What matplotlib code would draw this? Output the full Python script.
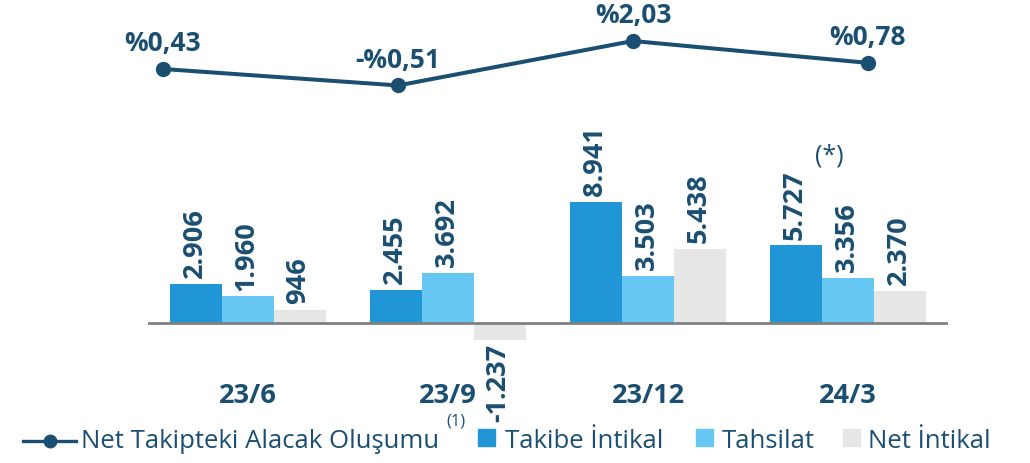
import matplotlib
matplotlib.use("Agg")
import matplotlib.pyplot as plt
from matplotlib.lines import Line2D
from matplotlib.patches import Rectangle

###############################################################
#                         data
###############################################################
periods = ["23/6", "23/9", "23/12", "24/3"]
takibe = [2906, 2455, 8941, 5727]
tahsilat = [1960, 3692, 3503, 3356]
net_intikal = [946, -1237, 5438, 2370]
net_olusum = [0.43, -0.51, 2.03, 0.78]
olusum_labels = ["%0,43", "-%0,51", "%2,03", "%0,78"]
legend_labels = ["Net Takipteki Alacak Oluşumu", "Takibe İntikal", "Tahsilat", "Net İntikal"]

def fmt(v):
    return f"{v:,}".replace(",", ".")

###############################################################
#                         style
###############################################################
W, H = 1030, 464
c_dark = "#1B4F72"
c_takibe = "#2196D6"
c_tahsilat = "#66C8F2"
c_net = "#E6E6E6"
plt.rcParams["font.family"] = ["Open Sans", "DejaVu Sans"]

fig = plt.figure(figsize=(W / 100, H / 100), dpi=100)

def px_axes(x0, x1, y0, y1):
    # pixel box (top-left origin) -> figure axes
    return fig.add_axes([x0 / W, 1 - y1 / H, (x1 - x0) / W, (y1 - y0) / H])

def fx(x):
    return x / W

def fy(y):
    return 1 - y / H

###############################################################
#                       line (top)
###############################################################
axl = px_axes(45.5, 985.5, 0, 120)
axl.set_xlim(-0.5, 3.5)
axl.set_ylim(0.43 - 50 / 17.5, 0.43 + 70 / 17.5)
xs = range(len(net_olusum))
axl.plot(xs, net_olusum, color=c_dark, lw=2.9, marker="o", ms=10)
for x, v, lab in zip(xs, net_olusum, olusum_labels):
    axl.annotate(lab, (x, v), xytext=(0, 9), textcoords="offset points",
                 ha="center", va="bottom", fontsize=19, fontweight="bold", color=c_dark)
axl.axis("off")

###############################################################
#                       bars (bottom)
###############################################################
scale = 121 / 8941  # px per unit
axb = px_axes(148, 948, 100, 400)
axb.set_xlim(-0.5, 3.5)
axb.set_ylim(-(400 - 324) / scale, (324 - 100) / scale)
bw = 0.26
series = [(takibe, c_takibe, -bw), (tahsilat, c_tahsilat, 0), (net_intikal, c_net, bw)]
for vals, col, off in series:
    pos = [i + off for i in range(len(vals))]
    axb.bar(pos, vals, width=bw, color=col, zorder=2)
    for p, v in zip(pos, vals):
        if v >= 0:
            axb.annotate(fmt(v), (p, v), xytext=(-1, 5), textcoords="offset points",
                         ha="center", va="bottom", rotation=90, fontsize=19.5,
                         fontweight="bold", color=c_dark)
        else:
            axb.annotate(fmt(v), (p, v), xytext=(-1, -2), textcoords="offset points",
                         ha="center", va="top", rotation=90, fontsize=19.5,
                         fontweight="bold", color=c_dark)
axb.axhline(0, color="#808080", lw=2, zorder=3)
for i, p in enumerate(periods):
    axb.text(i, -(396 - 324) / scale, p, ha="center", va="center", fontsize=19.5,
             fontweight="bold", color=c_dark)
axb.annotate("(*)", (3 - bw, takibe[3]), xytext=(14, 65), textcoords="offset points",
             ha="left", va="center", fontsize=18, color=c_dark)
axb.axis("off")

fig.text(fx(456), fy(422), "(1)", ha="center", va="center", fontsize=12, color=c_dark)

###############################################################
#                          legend
###############################################################
ly = 442
fig.add_artist(Line2D([fx(23), fx(76)], [fy(ly), fy(ly)], color=c_dark, lw=2.4))
fig.add_artist(Line2D([fx(50)], [fy(ly)], color=c_dark, marker="o", ms=9))
for x0, col in [(478, c_takibe), (696, c_tahsilat), (843, c_net)]:
    fig.add_artist(Rectangle((fx(x0), fy(447)), 17 / W, 17 / H, color=col,
                             transform=fig.transFigure))
for x0, lab in zip([81, 505, 722, 868], legend_labels):
    fig.text(fx(x0), fy(ly), lab, ha="left", va="center", fontsize=18.5, color=c_dark)

fig.savefig("out.png", dpi=100)
